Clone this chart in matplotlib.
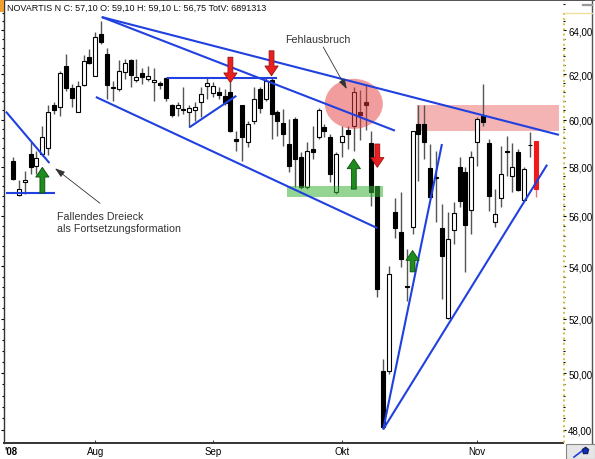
import matplotlib
matplotlib.use("Agg")
import matplotlib.pyplot as plt
from matplotlib.patches import Ellipse, Rectangle
from matplotlib.ticker import FixedLocator, FuncFormatter, NullFormatter
from matplotlib.transforms import ScaledTranslation

plt.rcParams["font.family"] = ["Liberation Sans", "DejaVu Sans"]

# Novartis N, Tageskerzen 14.07.2008 - 17.11.2008 (x = Handelstag-Index)
opens = [58.26, 56.84, 57.36, 58.54, 58.05, 58.54, 58.78, 60.65, 60.55, 62.35,
         61.38, 60.35, 61.51, 62.76, 61.93, 63.82, 62.90, 61.41, 61.34, 62.08,
         62.63, 61.75, 62.05, 61.78, 61.63, 61.59, 61.81, 60.65, 60.50, 60.47,
         60.35, 60.40, 60.79, 61.48, 61.16, 61.22, 61.02, 61.22, 59.17, 60.62,
         59.03, 59.96, 61.34, 60.90, 61.75, 60.35, 59.86, 58.96, 60.01, 58.40,
         57.16, 58.75, 59.24, 59.67, 59.24, 56.94, 59.03, 59.57, 59.74, 60.35,
         60.79, 59.00, 57.22, 50.08, 50.06, 56.13, 55.33, 53.22, 55.53, 59.82,
         59.82, 57.94, 57.57, 55.50, 52.01, 55.43, 58.01, 57.77, 56.23, 59.03,
         60.14, 59.00, 55.73, 56.70, 58.65, 57.60, 58.61, 56.65, 58.92, 59.10]
highs = [58.40, 57.46, 57.84, 59.03, 58.68, 59.72, 60.62, 60.77, 62.15, 62.90,
         61.56, 61.71, 62.86, 63.13, 63.90, 64.42, 63.18, 61.71, 62.65, 62.68,
         62.66, 62.68, 62.26, 62.38, 62.26, 61.71, 61.86, 60.69, 60.77, 61.41,
         60.62, 60.77, 61.41, 61.86, 61.63, 61.41, 61.34, 61.63, 59.53, 60.65,
         59.96, 61.41, 61.45, 61.81, 61.86, 60.40, 60.47, 60.04, 60.11, 58.61,
         59.03, 59.71, 60.50, 59.82, 59.39, 58.61, 59.74, 59.74, 61.41, 61.30,
         61.56, 59.50, 57.22, 50.51, 54.00, 56.70, 56.95, 54.67, 59.53, 60.62,
         60.62, 58.96, 58.68, 56.47, 56.14, 56.56, 58.40, 57.98, 58.68, 60.11,
         61.56, 59.17, 57.08, 58.89, 59.32, 59.00, 58.75, 57.99, 59.49, 59.10]
lows = [57.46, 56.81, 56.88, 57.70, 57.70, 58.47, 58.50, 60.25, 60.18, 61.27,
        60.55, 60.32, 61.48, 62.45, 61.90, 63.37, 60.90, 60.82, 61.27, 61.78,
        61.41, 61.63, 61.56, 61.71, 60.82, 61.34, 60.82, 60.11, 60.18, 60.25,
        59.67, 59.96, 60.11, 60.90, 60.97, 60.90, 60.62, 59.46, 58.68, 58.26,
        58.82, 59.82, 60.29, 60.82, 59.17, 59.32, 58.89, 57.77, 57.15, 57.08,
        57.08, 58.33, 59.17, 59.24, 57.36, 56.88, 58.40, 58.75, 58.68, 59.15,
        59.54, 56.40, 52.80, 48.03, 49.97, 55.10, 53.95, 52.67, 55.26, 57.40,
        58.33, 56.67, 55.73, 52.74, 51.99, 54.87, 56.33, 53.78, 55.26, 58.05,
        59.74, 56.20, 55.53, 56.33, 57.63, 56.97, 57.01, 56.60, 58.40, 56.75]
closes = [57.49, 57.08, 57.45, 57.98, 58.36, 59.24, 60.35, 60.40, 62.05, 61.37,
          60.94, 61.48, 62.58, 62.50, 63.67, 63.46, 61.51, 61.37, 62.15, 62.50,
          61.96, 61.86, 61.86, 61.90, 61.75, 61.53, 60.93, 60.21, 60.66, 60.40,
          60.51, 60.57, 61.12, 61.59, 61.48, 61.07, 60.73, 59.53, 59.10, 59.24,
          59.82, 60.90, 60.50, 61.71, 60.25, 59.96, 59.39, 58.05, 58.33, 57.15,
          58.66, 58.61, 60.40, 59.50, 57.70, 58.54, 59.32, 59.39, 61.19, 60.20,
          60.65, 56.94, 53.12, 48.10, 53.70, 55.49, 54.28, 53.20, 59.53, 59.39,
          59.03, 56.74, 57.54, 54.39, 55.07, 56.10, 56.60, 55.62, 58.40, 60.04,
          59.90, 56.78, 56.07, 57.70, 58.64, 58.01, 57.05, 57.91, 58.90, 57.10]

month_pos = [14, 34, 56, 79]
month_labels = ["Aug", "Sep", "Okt", "Nov"]
price_ticks = [48, 50, 52, 54, 56, 58, 60, 62, 64]

header = "NOVARTIS N C: 57,10 O: 59,10 H: 59,10 L: 56,75 TotV: 6891313"

# Trendlinien (Index, Kurs)
trend_lines = [
    ((15.1, 64.60), (92.9, 59.35)),
    ((15.1, 64.60), (65.0, 59.53)),
    ((14.1, 60.99), (62.0, 55.50)),
    ((26.2, 61.81), (45.0, 61.81)),
    ((30.0, 59.67), (38.0, 61.04)),
    ((-1.2, 60.35), (6.2, 58.16)),
    ((-1.2, 56.92), (7.2, 56.92)),
    ((63.0, 48.02), (73.0, 58.96)),
    ((63.0, 48.02), (90.9, 58.09)),
]

# Signalpfeile: (Index, Basis, Spitze)
up_arrows = [(5, 56.92, 57.98), (58, 57.08, 58.33), (68, 53.78, 54.61)]
down_arrows = [(37, 62.76, 61.62), (44, 63.05, 61.93), (62, 58.96, 57.98)]

W, H = 595, 460


def fig_line(fig, xs, ys, **kw):
    # Linie in Pixelkoordinaten der Abbildung
    fig.add_artist(plt.Line2D([x / W for x in xs], [1 - y / H for y in ys],
                              transform=fig.transFigure, **kw))


fig = plt.figure(figsize=(W / 100, H / 100), dpi=100)
fig.patch.set_facecolor("white")

ax = fig.add_axes([4 / W, 16 / H, 559 / W, 442 / H])
ax.set_yscale("log")
ax.set_xlim(-1.53, 93.6)
ax.set_ylim(47.55, 65.35)

# Zonen
ax.axhspan(59.53, 60.64, xmin=(68.7 + 1.53) / 95.13, xmax=(92.9 + 1.53) / 95.13,
           color="#e63c3c", alpha=0.38, lw=0, zorder=1)
ax.axhspan(56.75, 57.20, xmin=(46.6 + 1.53) / 95.13, xmax=(62.9 + 1.53) / 95.13,
           color="#3cb43c", alpha=0.55, lw=0, zorder=4)

# Kerzen
n = len(opens)
xs = list(range(n))
wick_col = ["#555555"] * (n - 1) + ["#f07070"]
ax.vlines(xs, lows, highs, colors=wick_col, lw=1, zorder=2)
for i in range(n):
    o, c = opens[i], closes[i]
    if i == n - 1:
        fc, ec = "#f01818", "#f01818"
    elif c >= o:
        fc, ec = "white", "black"
    else:
        fc, ec = "black", "black"
    ax.bar(i, abs(c - o), bottom=min(o, c), width=0.68, facecolor=fc,
           edgecolor=ec, linewidth=0.8, zorder=3)

# Kreis "Fehlausbruch"
circ_tr = fig.dpi_scale_trans + ScaledTranslation(58.0, 60.69, ax.transData)
ax.add_patch(Ellipse((0, 0), 0.58, 0.50, transform=circ_tr,
                     facecolor="#e63c3c", alpha=0.5, edgecolor="none", zorder=4))

for (x0, y0), (x1, y1) in trend_lines:
    ax.plot([x0, x1], [y0, y1], color="#2040e0", lw=1.5, zorder=5,
            solid_capstyle="butt")

arrow_style = "simple,head_width=0.95,head_length=0.7,tail_width=0.35"
for x, base, tip in up_arrows:
    ax.annotate("", xy=(x, tip), xytext=(x, base),
                arrowprops=dict(arrowstyle=arrow_style, mutation_scale=10,
                                fc="#1e8c1e", ec="#0b4d0b", lw=0.6,
                                shrinkA=0, shrinkB=0), zorder=6)
for x, base, tip in down_arrows:
    ax.annotate("", xy=(x, tip), xytext=(x, base),
                arrowprops=dict(arrowstyle=arrow_style, mutation_scale=10,
                                fc="#e82020", ec="#a01010", lw=0.6,
                                shrinkA=0, shrinkB=0), zorder=6)

# Beschriftungen
ax.text(51.9, 63.59, "Fehlausbruch", fontsize=7.7, color="#333333",
        ha="center", va="center", zorder=7)
ax.annotate("", xy=(56.8, 61.34), xytext=(52.8, 63.22),
            arrowprops=dict(arrowstyle="-|>,head_width=0.2,head_length=0.6",
                            color="#333333", lw=0.6, shrinkA=0, shrinkB=0),
            zorder=7)
ax.text(7.44, 55.76, "Fallendes Dreieck\nals Fortsetzungsformation",
        fontsize=7.7, color="#333333", ha="left", va="center",
        linespacing=1.25, zorder=7)
ax.annotate("", xy=(7.15, 57.94), xytext=(14.8, 56.50),
            arrowprops=dict(arrowstyle="-|>,head_width=0.2,head_length=0.6",
                            color="#333333", lw=0.6, shrinkA=0, shrinkB=0),
            zorder=7)

# Achsen
ax.yaxis.tick_right()
ax.yaxis.set_major_locator(FixedLocator(price_ticks))
ax.yaxis.set_major_formatter(FuncFormatter(lambda v, p: f"{v:.2f}".replace(".", ",")))
ax.yaxis.set_minor_locator(FixedLocator([48 + 0.4 * k for k in range(45)]))
ax.yaxis.set_minor_formatter(NullFormatter())
ax.tick_params(axis="y", which="both", left=True, right=True, direction="out",
               labelsize=7, pad=1.5, color="black", width=0.8)
ax.tick_params(axis="y", which="major", length=2.2)
ax.tick_params(axis="y", which="minor", length=1.6)

ax.set_xticks(month_pos)
ax.set_xticklabels(month_labels)
ax.tick_params(axis="x", direction="in", length=2, labelsize=7, pad=2,
               color="#444444")

for side in ["left", "top", "bottom"]:
    ax.spines[side].set_color("#333333")
    ax.spines[side].set_linewidth(1.0)
ax.spines["bottom"].set_linewidth(1.4)
ax.spines["top"].set_visible(False)
ax.spines["right"].set_visible(False)

# Rahmen und rechte Skala
fig_line(fig, [0, W], [0.6, 0.6], color="#333333", lw=1.2)
fig_line(fig, [592, 592], [0, 444], color="#555555", lw=1.0)
fig_line(fig, [563.5, 563.5], [14, 444], color="#d8c040", lw=1.4, ls=":")
fig_line(fig, [563.5, 592], [14, 14], color="#f0e0a0", lw=1.0)
fig_line(fig, [583, 592], [6, 6], color="#999999", lw=1.6)

fig.text(11 / W, 1 - 452 / H, "'08", fontsize=7, fontweight="bold",
         ha="center", va="center")

# Kopfzeile
fig.add_artist(Rectangle((0, 1 - 13 / H), 3.5 / W, 12 / H,
                         transform=fig.transFigure, facecolor="#f0a030",
                         edgecolor="none", zorder=8))
fig.text(7 / W, 1 - 8 / H, header, fontsize=6.5, ha="left", va="center",
         color="#111111", zorder=8)

# Kästchen unten rechts
fig.add_artist(Rectangle((566 / W, 0), 29 / W, 15 / H,
                         transform=fig.transFigure, facecolor="#e6e6e6",
                         edgecolor="#888888", lw=0.8))
fig_line(fig, [574, 586], [458, 449], color="#2040e0", lw=1.2)
fig_line(fig, [585], [451], marker="p", ms=5, color="#1030c0", mec="#102060")

fig.savefig("out.png", dpi=100)
